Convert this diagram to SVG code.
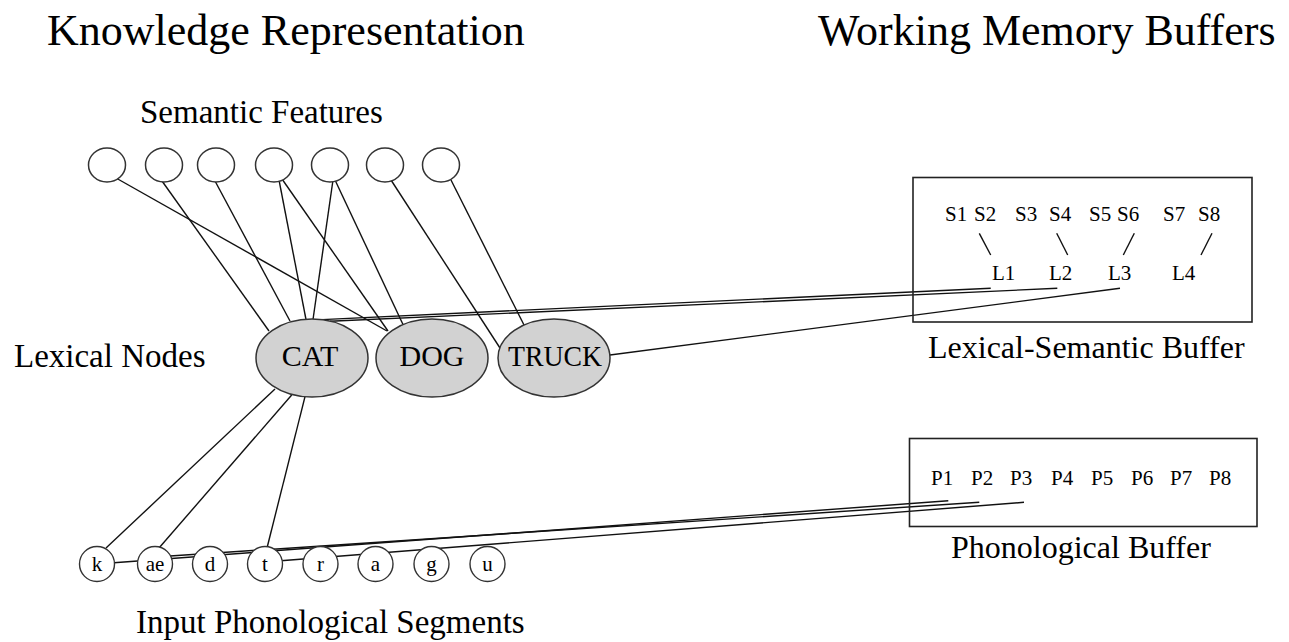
<svg xmlns="http://www.w3.org/2000/svg" width="1289" height="642" viewBox="0 0 1289 642">
  <style>
    text { font-family: "Liberation Serif", "Times New Roman", serif; fill: #000; }
    .title { font-size: 44px; }
    .label { font-size: 33px; }
    .buflabel { font-size: 32px; }
    .slot { font-size: 21px; }
    .word { font-size: 30px; text-anchor: middle; }
    .seg { font-size: 21px; text-anchor: middle; }
    .feat { fill: #fff; stroke: #333; stroke-width: 1.5; }
    .lex { fill: #d2d2d2; stroke: #333; stroke-width: 1.5; }
    .segc { fill: #fff; stroke: #333; stroke-width: 1.4; }
    .buf { fill: none; stroke: #222; stroke-width: 1.6; }
    .link { stroke: #111; stroke-width: 1.4; fill: none; }
  </style>

  <!-- Section headings -->
  <text class="title" x="47" y="45">Knowledge Representation</text>
  <text class="title" x="818" y="45">Working Memory Buffers</text>
  <text class="label" x="140" y="123">Semantic Features</text>
  <text class="label" x="14" y="367">Lexical Nodes</text>
  <text class="label" x="136" y="633">Input Phonological Segments</text>

  <!-- Connectors (drawn beneath the nodes) -->
  <g id="connectors" class="link">
    <!-- semantic features to lexical nodes -->
    <line x1="116" y1="178" x2="387" y2="331"/>
    <line x1="162" y1="181" x2="269" y2="331"/>
    <line x1="215" y1="181" x2="290" y2="321"/>
    <line x1="279" y1="180" x2="306" y2="319.5"/>
    <line x1="282" y1="179" x2="388" y2="331"/>
    <line x1="333" y1="180" x2="313" y2="319.5"/>
    <line x1="335" y1="180" x2="403" y2="324.5"/>
    <line x1="391" y1="180" x2="500" y2="348"/>
    <line x1="451" y1="180" x2="524" y2="325"/>
    <!-- lexical-semantic buffer to lexical nodes -->
    <line x1="990.7" y1="288.3" x2="322" y2="319.6"/>
    <line x1="1057.3" y1="288.3" x2="330" y2="321.3"/>
    <line x1="1120" y1="288.3" x2="610" y2="355"/>
    <!-- slot links inside the lexical-semantic buffer -->
    <line x1="979.3" y1="233.3" x2="990.7" y2="255"/>
    <line x1="1056.7" y1="233.3" x2="1067.7" y2="255"/>
    <line x1="1134.3" y1="233.3" x2="1123.3" y2="255"/>
    <line x1="1212" y1="233.3" x2="1201" y2="255"/>
    <!-- CAT to its phonological segments -->
    <line x1="275" y1="389" x2="106" y2="548"/>
    <line x1="291.7" y1="395" x2="159" y2="548"/>
    <line x1="305" y1="396.7" x2="267" y2="548"/>
    <!-- phonological buffer to segments -->
    <line x1="948.3" y1="500.7" x2="97" y2="564"/>
    <line x1="979.3" y1="502.3" x2="155" y2="557"/>
    <line x1="1024" y1="502.3" x2="265" y2="562"/>
  </g>

  <!-- Semantic feature units -->
  <g id="feature-1"><ellipse class="feat" cx="107" cy="165" rx="18.5" ry="17"/></g>
  <g id="feature-2"><ellipse class="feat" cx="164" cy="165" rx="18.5" ry="17"/></g>
  <g id="feature-3"><ellipse class="feat" cx="216" cy="165" rx="18.5" ry="17"/></g>
  <g id="feature-4"><ellipse class="feat" cx="274" cy="165" rx="18.5" ry="17"/></g>
  <g id="feature-5"><ellipse class="feat" cx="330" cy="165" rx="18.5" ry="17"/></g>
  <g id="feature-6"><ellipse class="feat" cx="385" cy="165" rx="18.5" ry="17"/></g>
  <g id="feature-7"><ellipse class="feat" cx="441" cy="165" rx="18.5" ry="17"/></g>

  <!-- Lexical nodes -->
  <g id="lex-cat">
    <ellipse class="lex" cx="312" cy="358" rx="56" ry="39"/>
    <text class="word" x="310" y="366">CAT</text>
  </g>
  <g id="lex-dog">
    <ellipse class="lex" cx="432" cy="358" rx="56" ry="39"/>
    <text class="word" x="432" y="366">DOG</text>
  </g>
  <g id="lex-truck">
    <ellipse class="lex" cx="554" cy="358" rx="56" ry="39"/>
    <text class="word" x="555" y="366" textLength="94" lengthAdjust="spacingAndGlyphs">TRUCK</text>
  </g>

  <!-- Input phonological segments -->
  <g id="seg-k"><circle class="segc" cx="97" cy="564" r="17.5"/><text class="seg" x="97" y="571">k</text></g>
  <g id="seg-ae"><circle class="segc" cx="155" cy="564" r="17.5"/><text class="seg" x="155" y="571">ae</text></g>
  <g id="seg-d"><circle class="segc" cx="210" cy="564" r="17.5"/><text class="seg" x="210" y="571">d</text></g>
  <g id="seg-t"><circle class="segc" cx="265" cy="564" r="17.5"/><text class="seg" x="265" y="571">t</text></g>
  <g id="seg-r"><circle class="segc" cx="320.5" cy="564" r="17.5"/><text class="seg" x="320.5" y="571">r</text></g>
  <g id="seg-a"><circle class="segc" cx="375.5" cy="564" r="17.5"/><text class="seg" x="375.5" y="571">a</text></g>
  <g id="seg-g"><circle class="segc" cx="431.5" cy="564" r="17.5"/><text class="seg" x="431.5" y="571">g</text></g>
  <g id="seg-u"><circle class="segc" cx="487.5" cy="564" r="17.5"/><text class="seg" x="487.5" y="571">u</text></g>

  <!-- Lexical-semantic buffer -->
  <g id="lexical-semantic-buffer">
    <rect class="buf" x="913" y="177.5" width="339" height="144.5"/>
    <text class="slot" x="945" y="221">S1</text>
    <text class="slot" x="974" y="221">S2</text>
    <text class="slot" x="1015" y="221">S3</text>
    <text class="slot" x="1049" y="221">S4</text>
    <text class="slot" x="1089" y="221">S5</text>
    <text class="slot" x="1117" y="221">S6</text>
    <text class="slot" x="1163" y="221">S7</text>
    <text class="slot" x="1198" y="221">S8</text>
    <text class="slot" x="992" y="280">L1</text>
    <text class="slot" x="1049" y="280">L2</text>
    <text class="slot" x="1108" y="280">L3</text>
    <text class="slot" x="1172" y="280">L4</text>
    <text class="buflabel" x="928" y="358">Lexical-Semantic Buffer</text>
  </g>

  <!-- Phonological buffer -->
  <g id="phonological-buffer">
    <rect class="buf" x="909.5" y="438.5" width="347.5" height="88"/>
    <text class="slot" x="931" y="485">P1</text>
    <text class="slot" x="971" y="485">P2</text>
    <text class="slot" x="1010" y="485">P3</text>
    <text class="slot" x="1051" y="485">P4</text>
    <text class="slot" x="1091" y="485">P5</text>
    <text class="slot" x="1131" y="485">P6</text>
    <text class="slot" x="1170" y="485">P7</text>
    <text class="slot" x="1209" y="485">P8</text>
    <text class="buflabel" x="951" y="558">Phonological Buffer</text>
  </g>
</svg>
